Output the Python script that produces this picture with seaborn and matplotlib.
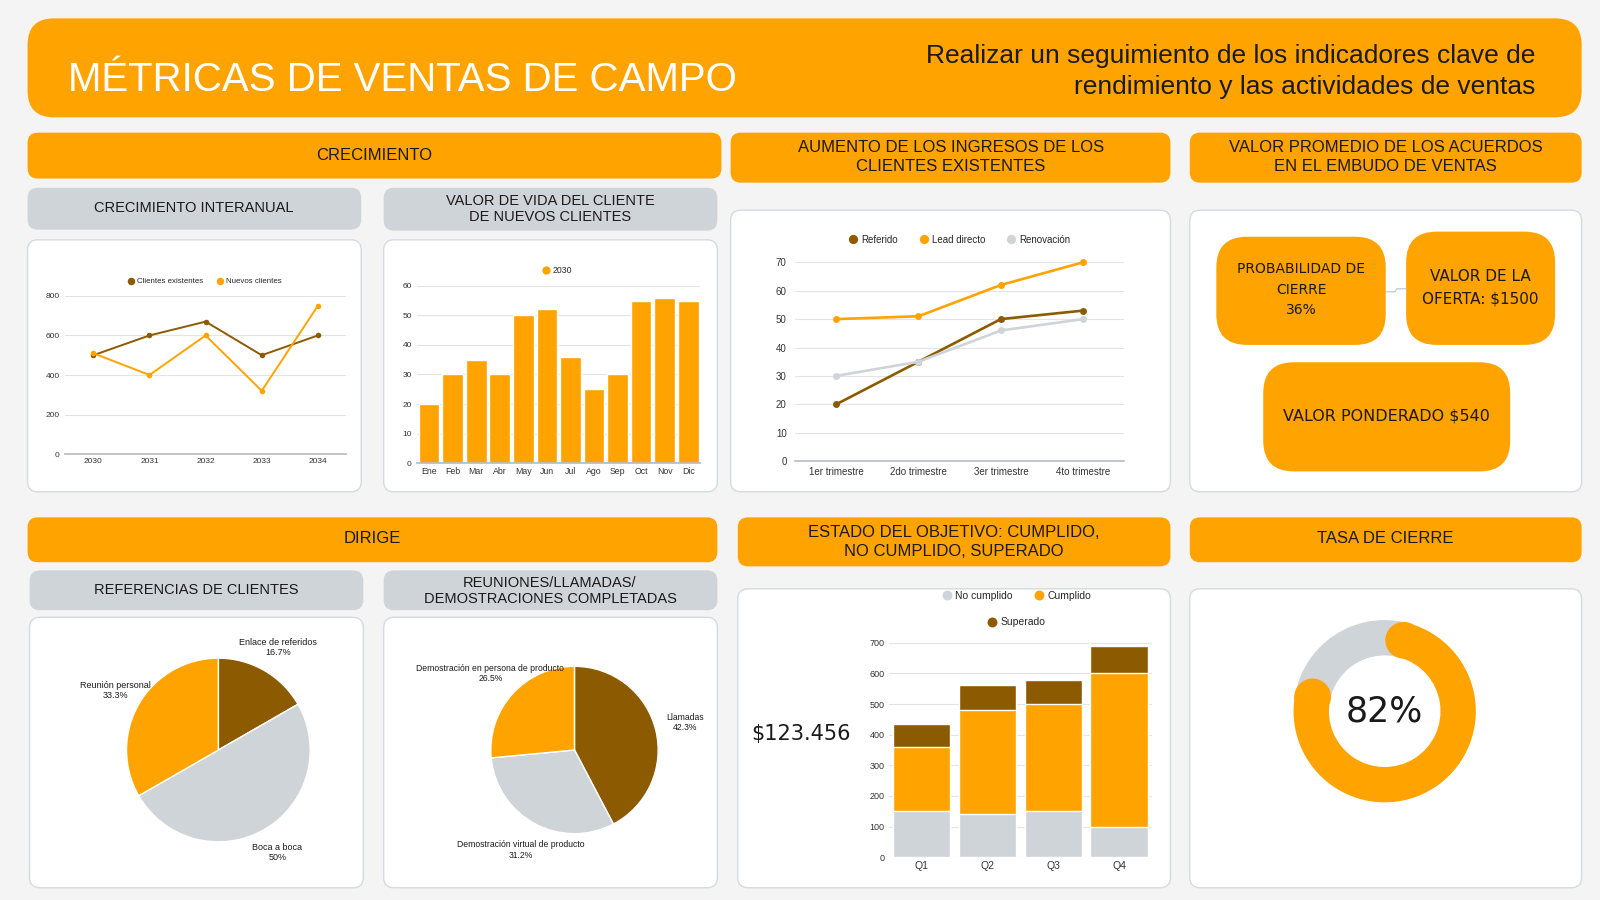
import matplotlib
matplotlib.use('Agg')
import matplotlib.pyplot as plt
import seaborn as sns
import pandas as pd
import numpy as np
from matplotlib.patches import FancyBboxPatch, Circle
from matplotlib.lines import Line2D

ORANGE = '#FFA300'
BROWN = '#8C5A00'
GRAY = '#CFD4D9'
BG = '#F4F4F4'
BORDER = '#D6DAE0'
GRID = '#E4E4E4'
TXT = '#1A1A1A'

# crecimiento interanual
years = ['2030', '2031', '2032', '2033', '2034']
existing_clients = [500, 600, 670, 500, 600]
new_clients = [510, 400, 600, 320, 750]

# valor de vida del cliente
months = ['Ene', 'Feb', 'Mar', 'Abr', 'May', 'Jun', 'Jul', 'Ago', 'Sep', 'Oct', 'Nov', 'Dic']
clv_2030 = [20, 30, 35, 30, 50, 52, 36, 25, 30, 55, 56, 55]

# ingresos clientes existentes
quarters = ['1er trimestre', '2do trimestre', '3er trimestre', '4to trimestre']
referido = [20, 35, 50, 53]
lead_directo = [50, 51, 62, 70]
renovacion = [30, 35, 46, 50]

# referencias de clientes
referral_labels = ['Enlace de referidos', 'Boca a boca', 'Reunión personal']
referral_pct = [16.7, 50, 33.3]

# reuniones / llamadas / demos
meeting_labels = ['Llamadas', 'Demostración virtual de producto', 'Demostración en persona de producto']
meeting_pct = [42.3, 31.2, 26.5]

# estado del objetivo
goal_quarters = ['Q1', 'Q2', 'Q3', 'Q4']
no_cumplido = [150, 140, 150, 100]
cumplido = [210, 340, 350, 500]
superado = [75, 83, 80, 89]
total_value = '$123.456'

# embudo
close_prob = 36
offer_value = 1500
weighted_value = 540

close_rate = 82

sns.set_theme(style='white')
plt.rcParams['font.family'] = ['Liberation Sans', 'DejaVu Sans']

W, H = 1568, 882
fig = plt.figure(figsize=(16, 9), dpi=100)
fig.patch.set_facecolor(BG)
bg = fig.add_axes([0, 0, 1, 1])
bg.set_xlim(0, W)
bg.set_ylim(H, 0)
bg.axis('off')
bg.set_facecolor(BG)


def box(x0, y0, x1, y1, color, r=10, edge='none'):
    bg.add_patch(FancyBboxPatch((x0, y0), x1 - x0, y1 - y0,
                                boxstyle=f'round,pad=0,rounding_size={r}',
                                fc=color, ec=edge, lw=1))


def label(x, y, s, size, color=TXT, **kw):
    bg.text(x, y, s, fontsize=size, color=color, ha='center', va='center', **kw)


def add_ax(x0, y0, x1, y1):
    return fig.add_axes([x0 / W, 1 - y1 / H, (x1 - x0) / W, (y1 - y0) / H])


def style_ax(ax, ymax, step, ysize=6, xsize=6, ypad=4, xpad=3):
    ax.set_ylim(0, ymax)
    ax.set_yticks(range(0, ymax + 1, step))
    ax.grid(axis='y', color=GRID, lw=0.8)
    ax.grid(axis='x', visible=False)
    ax.set_axisbelow(True)
    for s in ['top', 'right', 'left']:
        ax.spines[s].set_visible(False)
    ax.spines['bottom'].set_color('#B8BCC2')
    ax.tick_params(axis='y', length=0, labelsize=ysize, colors='#333333', pad=ypad)
    ax.tick_params(axis='x', length=0, labelsize=xsize, colors='#333333', pad=xpad)
    ax.set_xlabel('')
    ax.set_ylabel('')
    ax.set_facecolor('none')


def dot_legend(ax, names, colors, x, y, size, ncol=None, spacing=1.6):
    handles = [Line2D([], [], ls='', marker='o', ms=size * 0.95, mfc=c, mec='none') for c in colors]
    return ax.legend(handles, names, loc='center', bbox_to_anchor=(x / W, 1 - y / H),
                     bbox_transform=fig.transFigure, ncol=ncol or len(names), frameon=False,
                     fontsize=size, handletextpad=0.3, columnspacing=spacing,
                     borderaxespad=0, borderpad=0, handlelength=1.0)


# ---- header
box(27, 18, 1550, 115, ORANGE, r=26)
bg.text(67, 89, 'MÉTRICAS DE VENTAS DE CAMPO', fontsize=29, color='white', ha='left', va='baseline')
bg.text(1505, 62, 'Realizar un seguimiento de los indicadores clave de', fontsize=19, color=TXT,
        ha='right', va='baseline')
bg.text(1505, 92, 'rendimiento y las actividades de ventas', fontsize=19, color=TXT,
        ha='right', va='baseline')

# ---- section headers
box(27, 130, 707, 175, ORANGE)
label(367, 152, 'CRECIMIENTO', 12)
box(716, 130, 1147, 179, ORANGE)
label(932, 154, 'AUMENTO DE LOS INGRESOS DE LOS\nCLIENTES EXISTENTES', 12, linespacing=1.3)
box(1166, 130, 1550, 179, ORANGE)
label(1358, 154, 'VALOR PROMEDIO DE LOS ACUERDOS\nEN EL EMBUDO DE VENTAS', 12, linespacing=1.3)
box(27, 507, 703, 551, ORANGE)
label(365, 528, 'DIRIGE', 12)
box(723, 507, 1147, 555, ORANGE)
label(935, 531, 'ESTADO DEL OBJETIVO: CUMPLIDO,\nNO CUMPLIDO, SUPERADO', 12, linespacing=1.3)
box(1166, 507, 1550, 551, ORANGE)
label(1358, 528, 'TASA DE CIERRE', 12)

# ---- gray sub headers
box(27, 184, 354, 225, GRAY)
label(190, 204, 'CRECIMIENTO INTERANUAL', 10.5)
box(376, 184, 703, 226, GRAY)
label(539, 205, 'VALOR DE VIDA DEL CLIENTE\nDE NUEVOS CLIENTES', 10.5, linespacing=1.15)
box(29, 559, 356, 598, GRAY)
label(192, 578, 'REFERENCIAS DE CLIENTES', 10.5)
box(376, 559, 703, 598, GRAY)
label(539, 579, 'REUNIONES/LLAMADAS/\nDEMOSTRACIONES COMPLETADAS', 10.5, linespacing=1.15)

# ---- white panels
for x0, y0, x1, y1 in [(27, 235, 354, 482), (376, 235, 703, 482), (716, 206, 1147, 482),
                       (1166, 206, 1550, 482), (29, 605, 356, 870), (376, 605, 703, 870),
                       (723, 577, 1147, 870), (1166, 577, 1550, 870)]:
    box(x0, y0, x1, y1, 'white', r=10, edge=BORDER)

# ---- chart 1: crecimiento interanual
growth = pd.DataFrame({
    'year': years * 2,
    'value': existing_clients + new_clients,
    'serie': ['Clientes existentes'] * len(years) + ['Nuevos clientes'] * len(years),
})
ax1 = add_ax(64, 290, 339, 445)
sns.lineplot(data=growth, x='year', y='value', hue='serie', palette=[BROWN, ORANGE],
             marker='o', markersize=4, markeredgewidth=0, linewidth=1.4, legend=False,
             sort=False, ax=ax1)
ax1.set_xlim(-0.5, len(years) - 0.5)
style_ax(ax1, 800, 200, ysize=6, xsize=6)
for ln in ax1.lines:
    ln.set_clip_on(False)
dot_legend(ax1, ['Clientes existentes', 'Nuevos clientes'], [BROWN, ORANGE], 200, 276, 5.7)

# ---- chart 2: valor de vida
ax2 = add_ax(409, 280, 686, 454)
sns.barplot(x=months, y=clv_2030, color=ORANGE, saturation=1, width=0.88, ax=ax2)
ax2.set_xlim(-0.5, len(months) - 0.5)
style_ax(ax2, 60, 10, ysize=6, xsize=6.3)
dot_legend(ax2, ['2030'], [ORANGE], 546, 265, 6.3)

# ---- chart 3: aumento ingresos
income = pd.DataFrame({
    'q': quarters * 3,
    'value': referido + lead_directo + renovacion,
    'serie': ['Referido'] * 4 + ['Lead directo'] * 4 + ['Renovación'] * 4,
})
ax3 = add_ax(779, 257, 1102, 452)
sns.lineplot(data=income, x='q', y='value', hue='serie', palette=[BROWN, ORANGE, GRAY],
             marker='o', markersize=5, markeredgewidth=0, linewidth=1.9, legend=False,
             sort=False, ax=ax3)
ax3.set_xlim(-0.5, len(quarters) - 0.5)
style_ax(ax3, 70, 10, ysize=7, xsize=7, ypad=6, xpad=4)
ax3.spines['bottom'].set_linewidth(1.2)
for ln in ax3.lines:
    ln.set_clip_on(False)
dot_legend(ax3, ['Referido', 'Lead directo', 'Renovación'], [BROWN, ORANGE, GRAY], 940, 235, 7,
           spacing=2.2)

# ---- chart 4: estado del objetivo (stacked)
mid = [a + b for a, b in zip(no_cumplido, cumplido)]
top = [a + b for a, b in zip(mid, superado)]
ax4 = add_ax(871, 630, 1129, 840)
sns.barplot(x=goal_quarters, y=top, color=BROWN, saturation=1, width=0.875, ax=ax4)
sns.barplot(x=goal_quarters, y=mid, color=ORANGE, saturation=1, width=0.875, ax=ax4)
sns.barplot(x=goal_quarters, y=no_cumplido, color=GRAY, saturation=1, width=0.875, ax=ax4)
ax4.set_xlim(-0.5, len(goal_quarters) - 0.5)
style_ax(ax4, 700, 100, ysize=6.5, xsize=7.5, ypad=3, xpad=3)
ax4.spines['bottom'].set_visible(False)
leg_a = dot_legend(ax4, ['No cumplido', 'Cumplido'], [GRAY, ORANGE], 996, 584, 7.5, spacing=2.0)
ax4.add_artist(leg_a)
dot_legend(ax4, ['Superado'], [BROWN], 996, 610, 7.5)
label(785, 719, total_value, 15, family=['DejaVu Sans'])

# ---- chart 5: referencias de clientes (pie)
ax5 = add_ax(214 - 135, 735 - 135, 214 + 135, 735 + 135)
ax5.pie(referral_pct, labels=[f'{n}\n{v:g}%' for n, v in zip(referral_labels, referral_pct)],
        colors=[BROWN, GRAY, ORANGE], startangle=90, counterclock=False,
        labeldistance=1.29, textprops=dict(fontsize=6.5, ha='center', color=TXT))
ax5.set_xlim(-1.5, 1.5)
ax5.set_ylim(-1.5, 1.5)

# ---- chart 6: reuniones (pie)
k6 = 135 / 82
ax6 = add_ax(563 - 135, 735 - 135, 563 + 135, 735 + 135)
ax6.pie(meeting_pct, labels=[f'{n}\n{v:g}%' for n, v in zip(meeting_labels, meeting_pct)],
        colors=[BROWN, GRAY, ORANGE], startangle=90, counterclock=False,
        labeldistance=1.36, textprops=dict(fontsize=6.2, ha='center', color=TXT))
ax6.set_xlim(-k6, k6)
ax6.set_ylim(-k6, k6)

# ---- right column: embudo boxes
box(1192, 232, 1358, 338, ORANGE, r=30)
label(1275, 284, f'PROBABILIDAD DE\nCIERRE\n{close_prob}%', 10, family=['DejaVu Sans'], linespacing=1.6)
box(1378, 227, 1524, 338, ORANGE, r=30)
label(1451, 282, f'VALOR DE LA\nOFERTA: ${offer_value}', 11, family=['DejaVu Sans'], linespacing=1.6)
box(1238, 355, 1480, 462, ORANGE, r=30)
label(1359, 408, f'VALOR PONDERADO ${weighted_value}', 11.5, family=['DejaVu Sans'])
bg.plot([1358, 1367, 1369, 1378], [286, 286, 283, 283], color='#B8C4CC', lw=0.8)

# ---- donut: tasa de cierre
k8 = 100 / 90
ax8 = add_ax(1357 - 100, 697 - 100, 1357 + 100, 697 + 100)
wedges, _ = ax8.pie([close_rate, 100 - close_rate], colors=[ORANGE, GRAY], startangle=89.5,
                    counterclock=False, wedgeprops=dict(width=0.4))
ring, rest = wedges
rest.set_theta1(0)
rest.set_theta2(360)
rest.set_zorder(0.5)
cap = np.degrees(np.arcsin(0.2 / 0.8))
ring.set_theta1(ring.theta1 + cap)
ring.set_theta2(ring.theta2 - cap)
for ang in [ring.theta1, ring.theta2]:
    a = np.radians(ang)
    ax8.add_patch(Circle((0.8 * np.cos(a), 0.8 * np.sin(a)), 0.2, color=ORANGE, zorder=2, lw=0))
ax8.text(0, 0, f'{close_rate}%', fontsize=25, ha='center', va='center', color=TXT,
         family=['DejaVu Sans'])
ax8.set_xlim(-k8, k8)
ax8.set_ylim(-k8, k8)

fig.savefig('out.png', dpi=100, facecolor=BG)
